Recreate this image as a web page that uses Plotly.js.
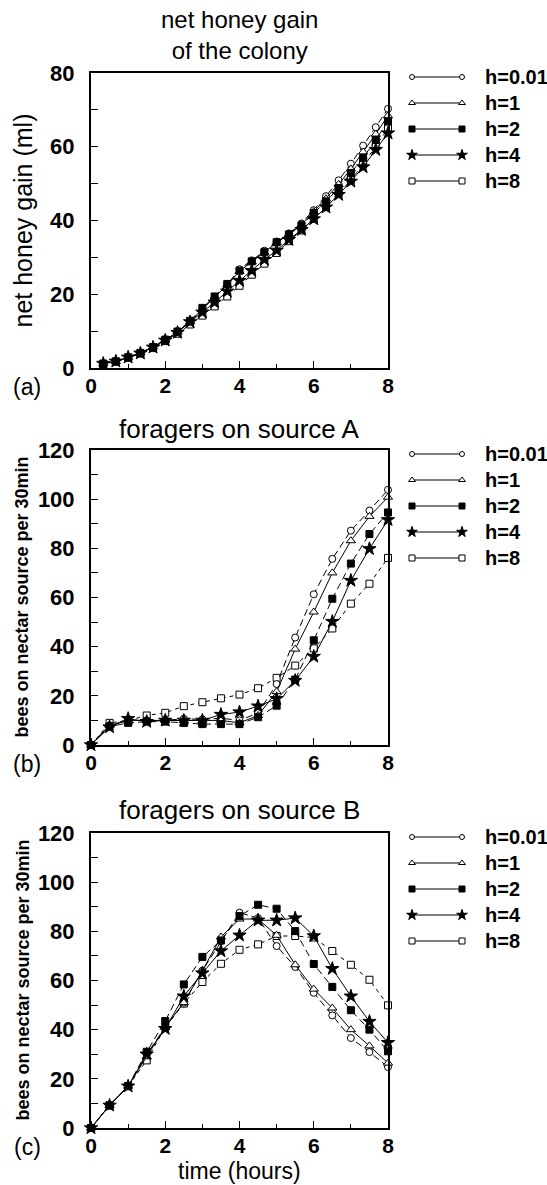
<!DOCTYPE html>
<html>
<head>
<meta charset="utf-8">
<script src="https://cdn.plot.ly/plotly-3.0.1.min.js"></script>
<style>html,body{margin:0;padding:0;background:#fff;}#chart{width:547px;height:1185px;}</style>
</head>
<body>
<div id="chart"></div>
<script>
// ---------------- data ----------------
const seriesNames = ["h=0.01", "h=1", "h=2", "h=4", "h=8"];

// panel (a): net honey gain (ml), sampled every 20 min
const hoursA = [0.33, 0.67, 1, 1.33, 1.67, 2, 2.33, 2.67, 3, 3.33, 3.67, 4,
                4.33, 4.67, 5, 5.33, 5.67, 6, 6.33, 6.67, 7, 7.33, 7.67, 8];
const honey_h001 = [1.2, 1.8, 2.9, 4.1, 5.7, 7.6, 9.8, 12.6, 16.0, 19.2, 22.6, 26.8,
                    29.2, 31.8, 34.3, 36.5, 39.2, 42.8, 46.6, 50.9, 55.4, 60.3, 65.3, 70.3];
const honey_h1   = [1.2, 1.8, 2.9, 4.1, 5.7, 7.6, 9.8, 12.6, 16.0, 19.2, 22.5, 26.2,
                    28.8, 31.3, 34.0, 36.3, 38.9, 42.4, 45.9, 49.8, 54.0, 58.6, 63.4, 68.4];
const honey_h2   = [1.2, 1.8, 2.9, 4.1, 5.7, 7.7, 9.9, 12.8, 16.3, 19.4, 22.8, 26.4,
                    28.9, 31.4, 34.1, 36.2, 38.7, 42.0, 45.2, 48.8, 52.9, 57.0, 61.9, 66.9];
const honey_h4   = [1.2, 1.8, 2.9, 4.0, 5.6, 7.5, 9.6, 12.5, 15.1, 17.8, 20.8, 23.7,
                    26.4, 29.4, 31.9, 34.8, 37.5, 40.4, 43.6, 47.0, 50.6, 54.5, 59.2, 63.7];
const honey_h8   = [1.1, 1.7, 2.8, 3.9, 5.4, 7.3, 9.3, 11.8, 14.2, 16.7, 19.4, 22.3,
                    25.3, 28.3, 31.2, 34.4, 37.3, 40.4, 43.6, 47.2, 51.0, 55.2, 60.0, 65.0];

// panels (b), (c): sampled every 30 min
const hoursBC = [0, 0.5, 1, 1.5, 2, 2.5, 3, 3.5, 4, 4.5, 5, 5.5, 6, 6.5, 7, 7.5, 8];
const srcA_h001 = [0, 8, 10, 10, 10, 10.7, 10.4, 10.9, 10, 13, 24.8, 43.7, 61.3, 75.7, 87.2, 95.4, 103.8];
const srcA_h1   = [0, 8, 10, 10, 10, 10, 10, 10, 9, 12, 21.7, 39, 54.1, 70, 83.1, 93, 100.8];
const srcA_h2   = [0, 7.5, 9, 9.5, 9.5, 9, 8.5, 8.5, 8.5, 11.3, 16, 26.6, 42.6, 59.5, 73.8, 85.8, 94.6];
const srcA_h4   = [0, 7.3, 10.7, 9.5, 10, 10, 10, 12.4, 13.4, 15.8, 18.8, 26.2, 36, 50.2, 66.9, 79.8, 91.6];
const srcA_h8   = [0, 9, 10, 12, 13.1, 15.8, 17.4, 19, 20.5, 23.1, 27.3, 32.3, 39.3, 47.4, 57.5, 65.6, 76.1];

const srcB_h001 = [0, 9.2, 17.1, 30, 41, 51, 64, 76, 87.6, 85.4, 74, 65.5, 55, 45.8, 36.6, 30.9, 24.8];
const srcB_h1   = [0, 9.2, 17, 29, 41, 51, 64, 77.7, 85, 85, 78.4, 66.4, 56.5, 48.8, 40, 33.4, 26.4];
const srcB_h2   = [0, 9.2, 17.1, 31, 43.5, 58.4, 69.6, 76.3, 86.2, 90.8, 89.2, 80.1, 66.7, 57.4, 47.9, 40, 31.2];
const srcB_h4   = [0, 9.2, 17, 30, 40.4, 53.6, 63, 72, 78.4, 84.5, 84.5, 85.4, 78.1, 64.8, 53.6, 43.3, 34.7];
const srcB_h8   = [0, 9.2, 17, 27.5, 41, 50.6, 59.4, 66.8, 72.5, 74.7, 78.1, 78.1, 77.5, 72, 66.4, 60.3, 49.9];

const xTickVals = [0, 2, 4, 6, 8];

// ---------------- styles ----------------
const W = 547, H = 1185;
const FONT = "Liberation Sans, Arial, Helvetica, sans-serif";
const styles = [
  {symbol: "circle",      size: 7,  lsize: 5, fill: "#fff", dash: "7px,4px"},
  {symbol: "triangle-up", size: 8,  lsize: 6, fill: "#fff", dash: "solid"},
  {symbol: "square",      size: 7,  lsize: 6, fill: "#000", dash: "7px,4px"},
  {symbol: "star",        size: 10, lsize: 8, fill: "#000", dash: "solid"},
  {symbol: "square",      size: 7,  lsize: 6, fill: "#fff", dash: "4px,4px"}
];
// drawing order: open markers underneath, filled markers on top
const drawOrder = [4, 0, 1, 3, 2];

const panels = [
  {x: hoursA,  ys: [honey_h001, honey_h1, honey_h2, honey_h4, honey_h8], top: 73,  ymax: 80,
   title: "net honey gain<br>of the colony", tsize: 24, tcy: 35,
   ytitle: "net honey gain (ml)", ybold: false, label: "(a)"},
  {x: hoursBC, ys: [srcA_h001, srcA_h1, srcA_h2, srcA_h4, srcA_h8], top: 450, ymax: 120,
   title: "foragers on source A", tsize: 26, tcy: 429,
   ytitle: "bees on nectar source per 30min", ybold: true, label: "(b)"},
  {x: hoursBC, ys: [srcB_h001, srcB_h1, srcB_h2, srcB_h4, srcB_h8], top: 833, ymax: 120,
   title: "foragers on source B", tsize: 26, tcy: 810,
   ytitle: "bees on nectar source per 30min", ybold: true, label: "(c)"}
];

const plotL = 91, plotR = 388, plotH = 295;
const legL = 412, legR = 462, rowGap = 26, rowOff = 4;
const fy = p => 1 - p / H;
const fx = p => p / W;

const traces = [];
const annotations = [];
const layout = {
  width: W, height: H,
  margin: {l: 0, r: 0, t: 0, b: 0},
  paper_bgcolor: "#fff", plot_bgcolor: "#fff",
  showlegend: false,
  font: {family: FONT, color: "#000"},
  annotations: annotations
};

panels.forEach((p, k) => {
  const n = k + 1;
  const sfx = n === 1 ? "" : String(n);
  const ln = n + 3;
  const dom = [fy(p.top + plotH), fy(p.top)];

  layout["xaxis" + sfx] = {
    domain: [fx(plotL), fx(plotR)], range: [0, 8], anchor: "y" + sfx,
    showline: true, linewidth: 2, linecolor: "#000", mirror: true,
    showgrid: false, zeroline: false,
    ticks: "inside", ticklen: 7, tickwidth: 1, tickcolor: "#000",
    tickvals: xTickVals, ticklabelstandoff: -2,
    tickfont: {family: FONT, size: 21, weight: "bold", color: "#000"},
    minor: {dtick: 1, ticks: "inside", ticklen: 4, tickwidth: 1, tickcolor: "#000", showgrid: false}
  };
  layout["yaxis" + sfx] = {
    domain: dom, range: [0, p.ymax], anchor: "x" + sfx,
    showline: true, linewidth: 2, linecolor: "#000", mirror: true,
    showgrid: false, zeroline: false,
    ticks: "inside", ticklen: 7, tickwidth: 1, tickcolor: "#000",
    dtick: 20, ticklabelstandoff: 10,
    tickfont: {family: FONT, size: 22, weight: "bold", color: "#000"},
    minor: {dtick: 10, ticks: "inside", ticklen: 7, tickwidth: 1, tickcolor: "#000", showgrid: false}
  };
  // legend axes
  const rTop = rowOff / rowGap;
  layout["xaxis" + ln] = {domain: [fx(legL), fx(legR)], range: [0, 1], anchor: "y" + ln, visible: false, fixedrange: true};
  layout["yaxis" + ln] = {domain: dom, range: [rTop - plotH / rowGap, rTop], anchor: "x" + ln, visible: false, fixedrange: true};

  drawOrder.forEach(i => {
    const ys = p.ys[i];
    const s = styles[i];
    traces.push({
      type: "scatter", mode: "lines+markers", name: seriesNames[i],
      x: p.x, y: ys, xaxis: "x" + sfx, yaxis: "y" + sfx, cliponaxis: false,
      line: {color: "#000", width: 1, dash: s.dash},
      marker: {symbol: s.symbol, size: s.size, color: s.fill, line: {color: "#000", width: 1}}
    });
  });
  seriesNames.forEach((name, i) => {
    const s = styles[i];
    // legend sample: line with markers at both ends
    traces.push({
      type: "scatter", mode: "lines+markers", name: name, hoverinfo: "skip",
      x: [0, 1], y: [-i, -i], xaxis: "x" + ln, yaxis: "y" + ln, cliponaxis: false,
      line: {color: "#000", width: 1},
      marker: {symbol: s.symbol, size: s.lsize, color: s.fill, line: {color: "#000", width: 1}}
    });
    annotations.push({
      xref: "x" + ln, yref: "y" + ln, x: 1, y: -i, xshift: 21,
      xanchor: "left", yanchor: "middle", showarrow: false, text: name,
      font: {family: FONT, size: 20, weight: "bold", color: "#000"}
    });
  });

  // panel title
  annotations.push({
    xref: "paper", yref: "paper", x: fx((plotL + plotR) / 2),
    y: fy(p.tcy), xanchor: "center", yanchor: "middle", showarrow: false,
    text: p.title, font: {family: FONT, size: p.tsize, color: "#000"}
  });
  // y title
  annotations.push({
    xref: "paper", yref: "paper", x: fx(22), y: fy(p.top + plotH / 2),
    xanchor: "center", yanchor: "middle", showarrow: false, textangle: -90,
    text: p.ytitle,
    font: p.ybold ? {family: FONT, size: 18, weight: "bold", color: "#000"}
                  : {family: FONT, size: 25, color: "#000"}
  });
  // panel letter
  annotations.push({
    xref: "paper", yref: "paper", x: fx(27), y: fy(p.top + plotH + 19),
    xanchor: "center", yanchor: "middle", showarrow: false,
    text: p.label, font: {family: FONT, size: 23, color: "#000"}
  });
});

annotations.push({
  xref: "paper", yref: "paper", x: fx((plotL + plotR) / 2), y: fy(1171),
  xanchor: "center", yanchor: "middle", showarrow: false,
  text: "time (hours)", font: {family: FONT, size: 23, color: "#000"}
});

Plotly.newPlot("chart", traces, layout, {staticPlot: true, displayModeBar: false});
</script>
</body>
</html>
